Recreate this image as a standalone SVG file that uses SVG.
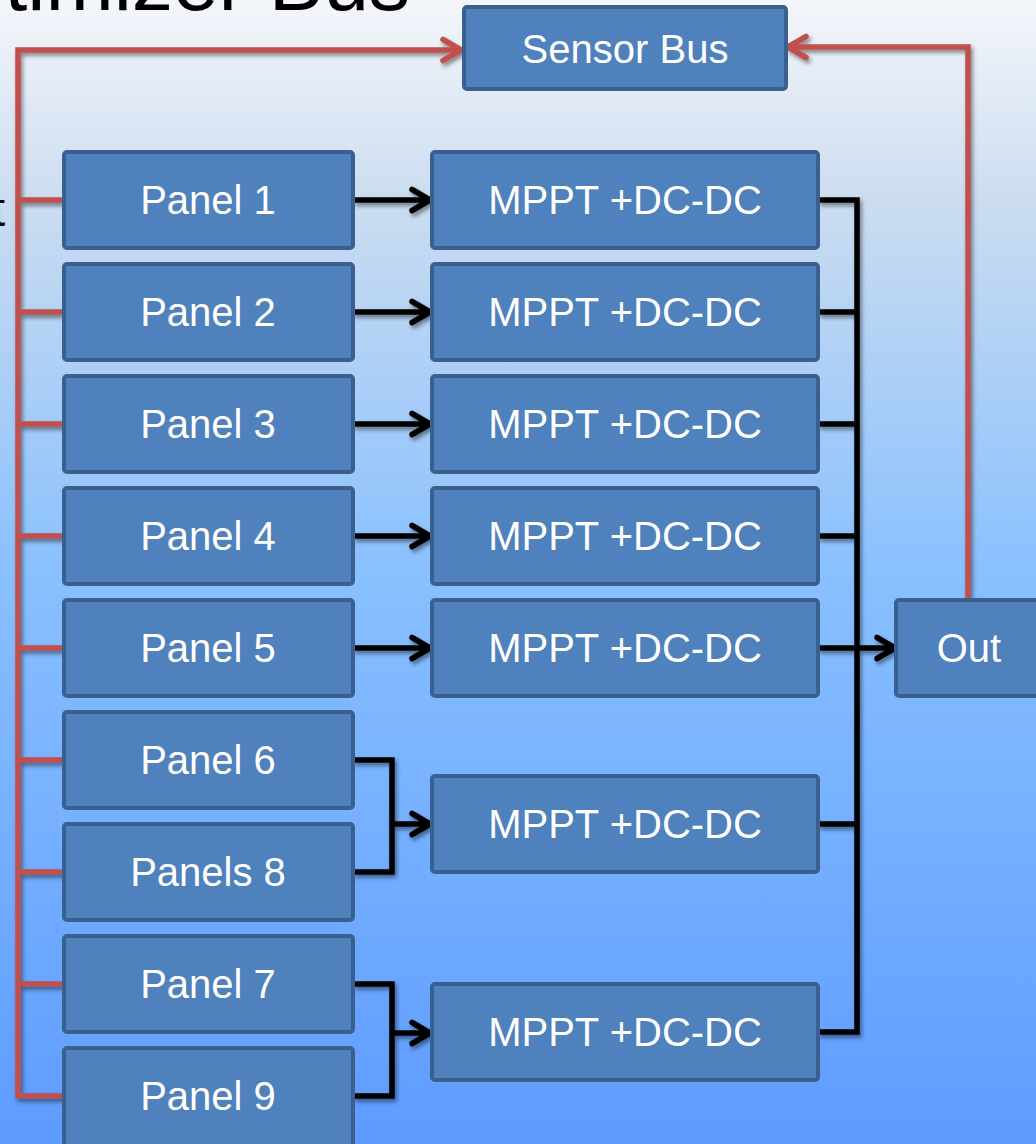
<svg xmlns="http://www.w3.org/2000/svg" width="1036" height="1144" viewBox="0 0 1036 1144">
<defs>
<linearGradient id="bg" x1="0" y1="0" x2="0" y2="1">
<stop offset="0" stop-color="#F4F6FA"/>
<stop offset="0.18" stop-color="#CADCF0"/>
<stop offset="0.5" stop-color="#89C0FF"/>
<stop offset="1" stop-color="#5E9BFF"/>
</linearGradient>
<filter id="sh" x="-10%" y="-10%" width="130%" height="130%">
<feDropShadow dx="2" dy="3" stdDeviation="2" flood-color="#000" flood-opacity="0.45"/>
</filter>
<marker id="ab" markerUnits="userSpaceOnUse" markerWidth="30" markerHeight="30" refX="22" refY="12" orient="auto" overflow="visible">
<path d="M4,1.5 L22,12 L4,22.5" fill="none" stroke="#000" stroke-width="5.5" stroke-linecap="round" stroke-linejoin="round"/>
</marker>
<marker id="ar" markerUnits="userSpaceOnUse" markerWidth="30" markerHeight="30" refX="22" refY="12" orient="auto" overflow="visible">
<path d="M4,1.5 L22,12 L4,22.5" fill="none" stroke="#C0504D" stroke-width="5.5" stroke-linecap="round" stroke-linejoin="round"/>
</marker>
</defs>
<style>
.box{fill:#4F81BD;stroke:#3A6090;stroke-width:4}
.lbl{fill:#fff;font-family:"Liberation Sans",Arial,sans-serif;font-size:40px;text-anchor:middle}
.blk{fill:none;stroke:#000;stroke-width:5.5}
.red{fill:none;stroke:#C0504D;stroke-width:5.5}
.ttl{fill:#000;font-family:"Liberation Sans",Arial,sans-serif;font-size:82px}
</style>
<rect x="0" y="0" width="1036" height="1144" fill="url(#bg)"/>
<text class="ttl" x="410" y="10" text-anchor="end">Optimizer Bus</text>
<text class="ttl" x="5" y="226" text-anchor="end" style="font-size:48px">t</text>

<g id="connectors">
<g filter="url(#sh)">
<polyline class="red" points="63,1096 18,1096 18,50 461,50" marker-end="url(#ar)"/>
<polyline class="red" points="968,599 968,47 788,47" marker-end="url(#ar)"/>
<line class="red" x1="18" y1="200" x2="63" y2="200"/>
<line class="red" x1="18" y1="312" x2="63" y2="312"/>
<line class="red" x1="18" y1="424" x2="63" y2="424"/>
<line class="red" x1="18" y1="536" x2="63" y2="536"/>
<line class="red" x1="18" y1="648" x2="63" y2="648"/>
<line class="red" x1="18" y1="760" x2="63" y2="760"/>
<line class="red" x1="18" y1="872" x2="63" y2="872"/>
<line class="red" x1="18" y1="984" x2="63" y2="984"/>
</g>
<g filter="url(#sh)">
<line class="blk" x1="353" y1="200" x2="430" y2="200" marker-end="url(#ab)"/>
<line class="blk" x1="353" y1="312" x2="430" y2="312" marker-end="url(#ab)"/>
<line class="blk" x1="353" y1="424" x2="430" y2="424" marker-end="url(#ab)"/>
<line class="blk" x1="353" y1="536" x2="430" y2="536" marker-end="url(#ab)"/>
<line class="blk" x1="353" y1="648" x2="430" y2="648" marker-end="url(#ab)"/>
<polyline class="blk" points="353,760 392,760 392,872 353,872"/>
<line class="blk" x1="392" y1="824" x2="430" y2="824" marker-end="url(#ab)"/>
<polyline class="blk" points="353,984 392,984 392,1096 353,1096"/>
<line class="blk" x1="392" y1="1033" x2="430" y2="1033" marker-end="url(#ab)"/>
<polyline class="blk" points="818,200 857,200 857,1032 818,1032"/>
<line class="blk" x1="818" y1="312" x2="857" y2="312"/>
<line class="blk" x1="818" y1="424" x2="857" y2="424"/>
<line class="blk" x1="818" y1="536" x2="857" y2="536"/>
<line class="blk" x1="818" y1="824" x2="857" y2="824"/>
<line class="blk" x1="818" y1="648" x2="895" y2="648" marker-end="url(#ab)"/>
</g>
</g>

<g id="sensor-bus"><rect class="box" x="464" y="7" width="322" height="82" rx="3"/><text class="lbl" x="625" y="63">Sensor Bus</text></g>
<g id="panel1"><rect class="box" x="64" y="152" width="289" height="96" rx="3"/><text class="lbl" x="208" y="214">Panel 1</text></g>
<g id="panel2"><rect class="box" x="64" y="264" width="289" height="96" rx="3"/><text class="lbl" x="208" y="326">Panel 2</text></g>
<g id="panel3"><rect class="box" x="64" y="376" width="289" height="96" rx="3"/><text class="lbl" x="208" y="438">Panel 3</text></g>
<g id="panel4"><rect class="box" x="64" y="488" width="289" height="96" rx="3"/><text class="lbl" x="208" y="550">Panel 4</text></g>
<g id="panel5"><rect class="box" x="64" y="600" width="289" height="96" rx="3"/><text class="lbl" x="208" y="662">Panel 5</text></g>
<g id="panel6"><rect class="box" x="64" y="712" width="289" height="96" rx="3"/><text class="lbl" x="208" y="774">Panel 6</text></g>
<g id="panels8"><rect class="box" x="64" y="824" width="289" height="96" rx="3"/><text class="lbl" x="208" y="886">Panels 8</text></g>
<g id="panel7"><rect class="box" x="64" y="936" width="289" height="96" rx="3"/><text class="lbl" x="208" y="998">Panel 7</text></g>
<g id="panel9"><rect class="box" x="64" y="1048" width="289" height="100" rx="3"/><text class="lbl" x="208" y="1110">Panel 9</text></g>
<g id="mppt1"><rect class="box" x="432" y="152" width="386" height="96" rx="3"/><text class="lbl" x="625" y="214">MPPT +DC-DC</text></g>
<g id="mppt2"><rect class="box" x="432" y="264" width="386" height="96" rx="3"/><text class="lbl" x="625" y="326">MPPT +DC-DC</text></g>
<g id="mppt3"><rect class="box" x="432" y="376" width="386" height="96" rx="3"/><text class="lbl" x="625" y="438">MPPT +DC-DC</text></g>
<g id="mppt4"><rect class="box" x="432" y="488" width="386" height="96" rx="3"/><text class="lbl" x="625" y="550">MPPT +DC-DC</text></g>
<g id="mppt5"><rect class="box" x="432" y="600" width="386" height="96" rx="3"/><text class="lbl" x="625" y="662">MPPT +DC-DC</text></g>
<g id="mppt6"><rect class="box" x="432" y="776" width="386" height="96" rx="3"/><text class="lbl" x="625" y="838">MPPT +DC-DC</text></g>
<g id="mppt7"><rect class="box" x="432" y="984" width="386" height="96" rx="3"/><text class="lbl" x="625" y="1046">MPPT +DC-DC</text></g>
<g id="out"><rect class="box" x="896" y="600" width="146" height="96" rx="3"/><text class="lbl" x="969" y="662">Out</text></g>
</svg>
